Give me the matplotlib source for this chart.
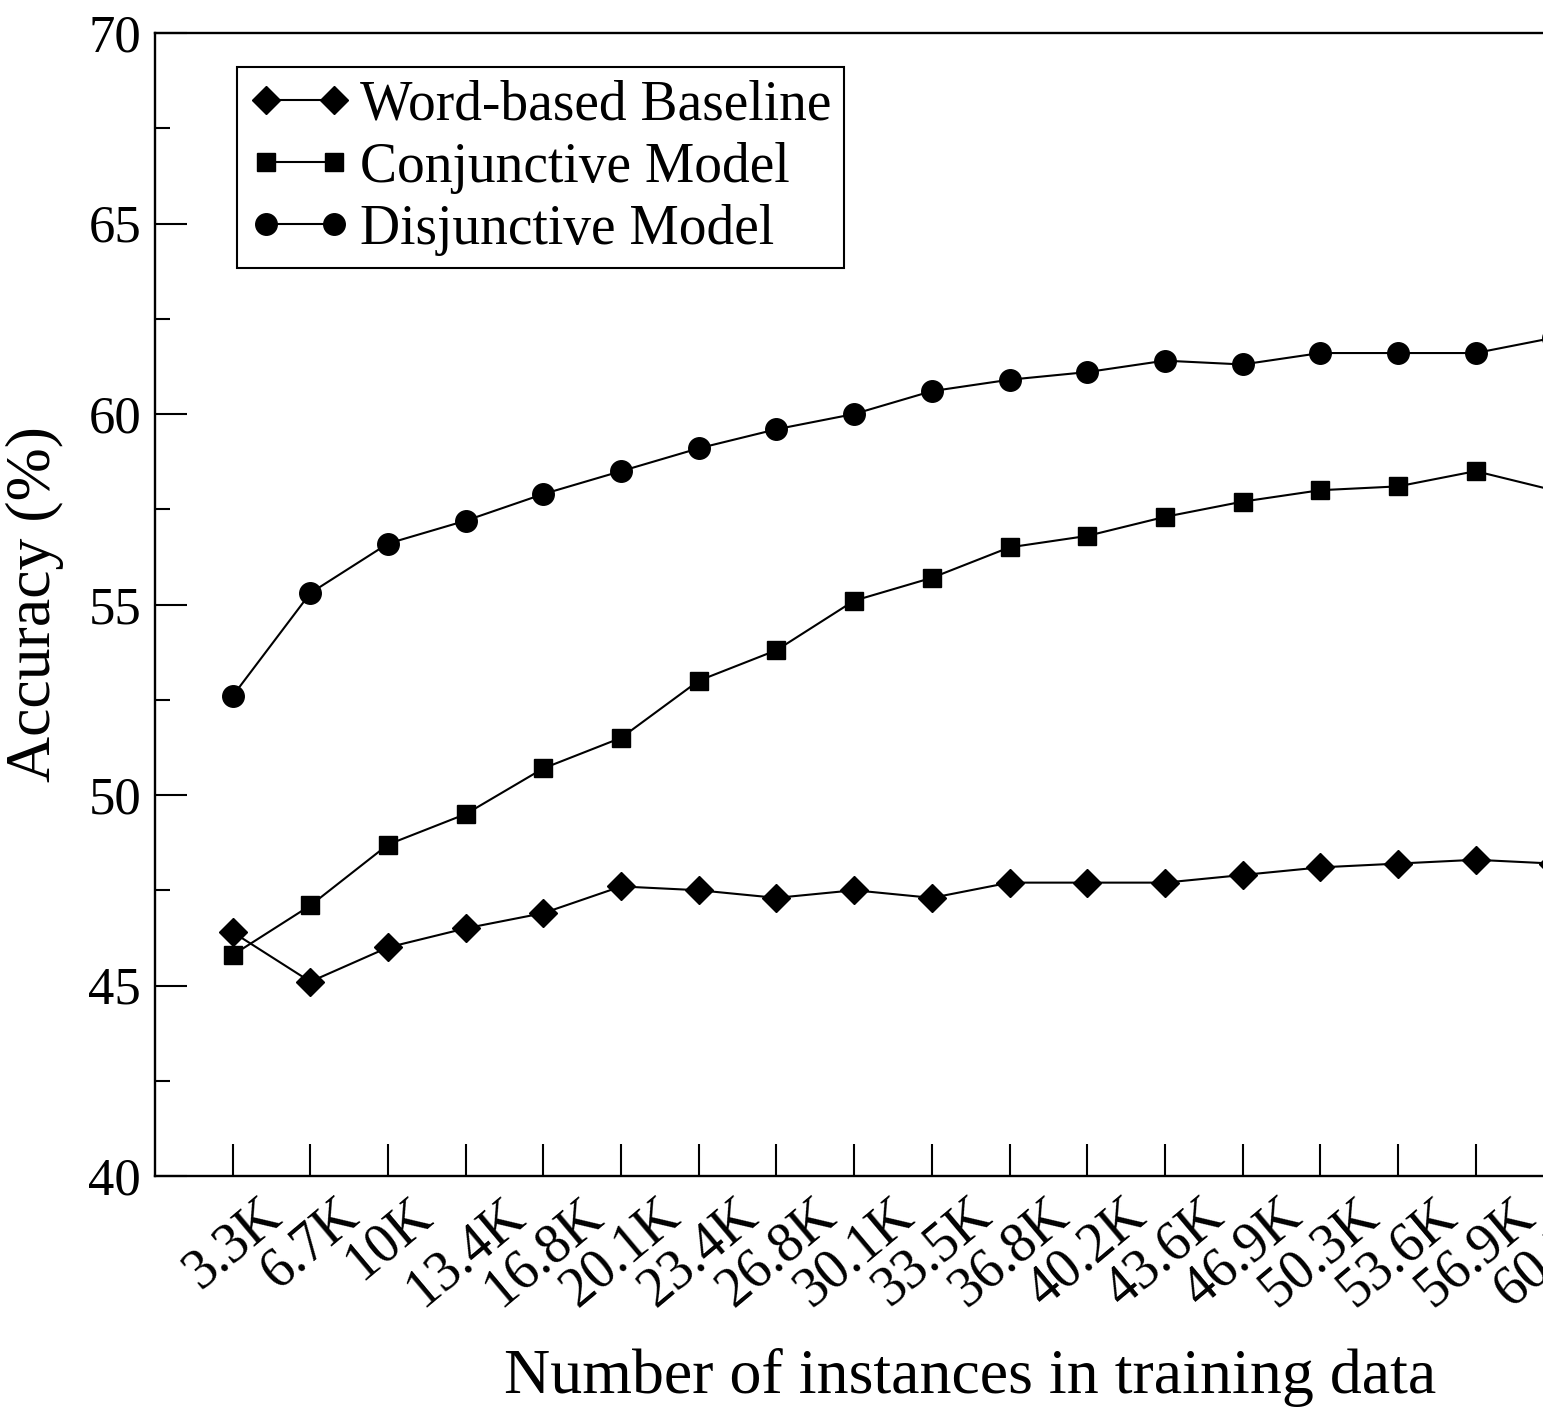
import numpy as np
import matplotlib
matplotlib.use("Agg")
import matplotlib.pyplot as plt
from matplotlib.ticker import MultipleLocator

plt.rcParams["font.family"] = "serif"
plt.rcParams["font.serif"] = ["Liberation Serif", "DejaVu Serif"]

# tick labels of the training set sizes
sizes = ["3.3K", "6.7K", "10K", "13.4K", "16.8K", "20.1K", "23.4K", "26.8K", "30.1K",
         "33.5K", "36.8K", "40.2K", "43.6K", "46.9K", "50.3K", "53.6K", "56.9K", "60.3K"]

baseline = [46.4, 45.1, 46.0, 46.5, 46.9, 47.6, 47.5, 47.3, 47.5,
            47.3, 47.7, 47.7, 47.7, 47.9, 48.1, 48.2, 48.3, 48.2]
conjunctive = [45.8, 47.1, 48.7, 49.5, 50.7, 51.5, 53.0, 53.8, 55.1,
               55.7, 56.5, 56.8, 57.3, 57.7, 58.0, 58.1, 58.5, 58.0]
disjunctive = [52.6, 55.3, 56.6, 57.2, 57.9, 58.5, 59.1, 59.6, 60.0,
               60.6, 60.9, 61.1, 61.4, 61.3, 61.6, 61.6, 61.6, 62.0]

W, H = 1543, 1421
fig = plt.figure(figsize=(W / 100, H / 100), dpi=100)
# the original figure is cropped on the right, so the axes run past the edge
ax = fig.add_axes([155 / W, 245 / H, 1476 / W, 1143 / H])

x = np.arange(1, len(sizes) + 1)
ax.plot(x, baseline, color="black", lw=1.5, marker="D", ms=14.5, label="Word-based Baseline")
ax.plot(x, conjunctive, color="black", lw=1.5, marker="s", ms=13.5, label="Conjunctive Model")
ax.plot(x, disjunctive, color="black", lw=1.5, marker="o", ms=15.5, label="Disjunctive Model")

ax.set_xlim(0, 19)
ax.set_ylim(40, 70)
ax.yaxis.set_major_locator(MultipleLocator(5))
ax.yaxis.set_minor_locator(MultipleLocator(2.5))
ax.set_xticks(x)
ax.set_xticklabels(sizes, rotation=40, ha="center")

ax.tick_params(axis="both", which="major", direction="in", length=23, width=1.5)
ax.tick_params(axis="y", which="minor", direction="in", length=11, width=1.5)
ax.tick_params(axis="x", which="major", pad=9, labelsize=40)
ax.tick_params(axis="y", which="major", pad=10, labelsize=38)
for s in ax.spines.values():
    s.set_linewidth(1.7)

ax.set_xlabel("Number of instances in training data", fontsize=46)
ax.xaxis.set_label_coords((970 - 155) / 1476, -(1348 - 1176) / 1143)
ax.set_ylabel("Accuracy (%)", fontsize=46)
ax.yaxis.set_label_coords(-(155 - 64) / 1476, 0.5)

leg = ax.legend(loc="upper left", bbox_to_anchor=(0.0556, 0.970), borderaxespad=0,
                fontsize=40, numpoints=2, handlelength=1.82, handletextpad=0.18,
                borderpad=0.22, labelspacing=0.18, fancybox=False, framealpha=1,
                edgecolor="black")
leg.get_frame().set_linewidth(1.5)

fig.savefig("out.png", dpi=100)
